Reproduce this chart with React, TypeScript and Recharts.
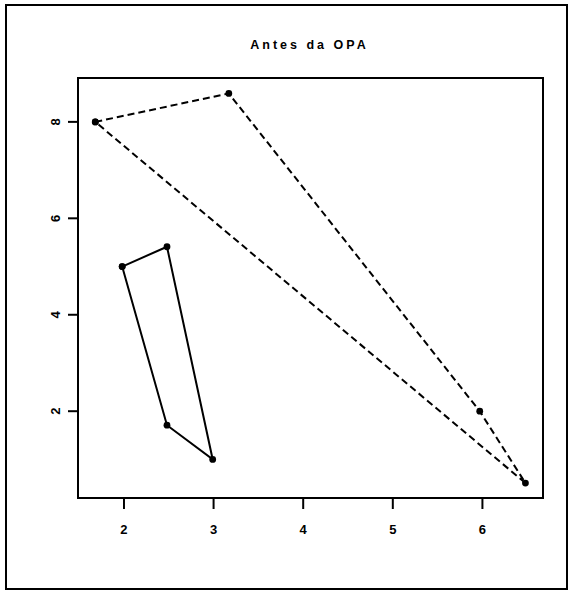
import React from "react";
import { ScatterChart, Scatter, XAxis, YAxis, ReferenceArea } from "recharts";

const dashedPoly = [
  { x: 1.68, y: 8.0 },
  { x: 3.17, y: 8.59 },
  { x: 5.97, y: 2.0 },
  { x: 6.48, y: 0.51 },
  { x: 1.68, y: 8.0 },
];

const solidPoly = [
  { x: 1.98, y: 5.0 },
  { x: 2.48, y: 5.41 },
  { x: 2.99, y: 1.0 },
  { x: 2.48, y: 1.71 },
  { x: 1.98, y: 5.0 },
];

const xTicks = [2, 3, 4, 5, 6];
const yTicks = [2, 4, 6, 8];
const xDomain: [number, number] = [1.487, 6.676];
const yDomain: [number, number] = [0.2, 8.91];
const title = "Antes da OPA";

const FONT = "'Liberation Sans', Arial, Helvetica, sans-serif";

const Dot = (props: any) => <circle cx={props.cx} cy={props.cy} r={3.4} fill="#000" />;

const XTick = (props: any) => (
  <text x={props.x} y={props.y + 25} textAnchor="middle" fontFamily={FONT} fontSize={13} fontWeight="bold" fill="#000">
    {props.payload.value}
  </text>
);

const YTick = (props: any) => {
  const bx = props.x - 8;
  return (
    <text x={bx} y={props.y} transform={`rotate(-90, ${bx}, ${props.y})`} textAnchor="middle" fontFamily={FONT} fontSize={13} fontWeight="bold" fill="#000">
      {props.payload.value}
    </text>
  );
};

export default function App() {
  return (
    <div style={{ position: "absolute", left: 0, top: 0, width: 572, height: 591, background: "#fff" }}>
      <div
        style={{
          position: "absolute",
          left: 5,
          top: 4,
          width: 563,
          height: 586,
          border: "2px solid #000",
          boxSizing: "border-box",
        }}
      />
      <div
        style={{
          position: "absolute",
          left: 208,
          top: 39.4,
          width: 200,
          paddingLeft: 3,
          boxSizing: "border-box",
          textAlign: "center",
          fontFamily: FONT,
          fontSize: 12.5,
          lineHeight: "12.5px",
          fontWeight: "bold",
          letterSpacing: 3,
          color: "#000",
        }}
      >
        {title}
      </div>
      <div style={{ position: "absolute", left: 0, top: 0 }}>
        <ScatterChart width={572} height={591} margin={{ top: 78, right: 29, bottom: 43, left: 0 }}>
          <XAxis
            type="number"
            dataKey="x"
            domain={xDomain}
            ticks={xTicks}
            axisLine={false}
            tickLine={{ stroke: "#000", strokeWidth: 2 }}
            tickSize={11}
            tickMargin={0}
            height={50}
            tick={<XTick />}
            allowDataOverflow
          />
          <YAxis
            type="number"
            dataKey="y"
            domain={yDomain}
            ticks={yTicks}
            axisLine={false}
            tickLine={{ stroke: "#000", strokeWidth: 2 }}
            tickSize={10}
            tickMargin={0}
            width={78}
            tick={<YTick />}
            allowDataOverflow
          />
          <ReferenceArea
            x1={xDomain[0]}
            x2={xDomain[1]}
            y1={yDomain[0]}
            y2={yDomain[1]}
            fill="none"
            stroke="#000"
            strokeWidth={2}
            ifOverflow="visible"
          />
          <Scatter
            data={dashedPoly}
            line={{ stroke: "#000", strokeWidth: 2, strokeDasharray: "7 4" }}
            lineType="joint"
            shape={Dot}
            isAnimationActive={false}
          />
          <Scatter
            data={solidPoly}
            line={{ stroke: "#000", strokeWidth: 2 }}
            lineType="joint"
            shape={Dot}
            isAnimationActive={false}
          />
        </ScatterChart>
      </div>
    </div>
  );
}
